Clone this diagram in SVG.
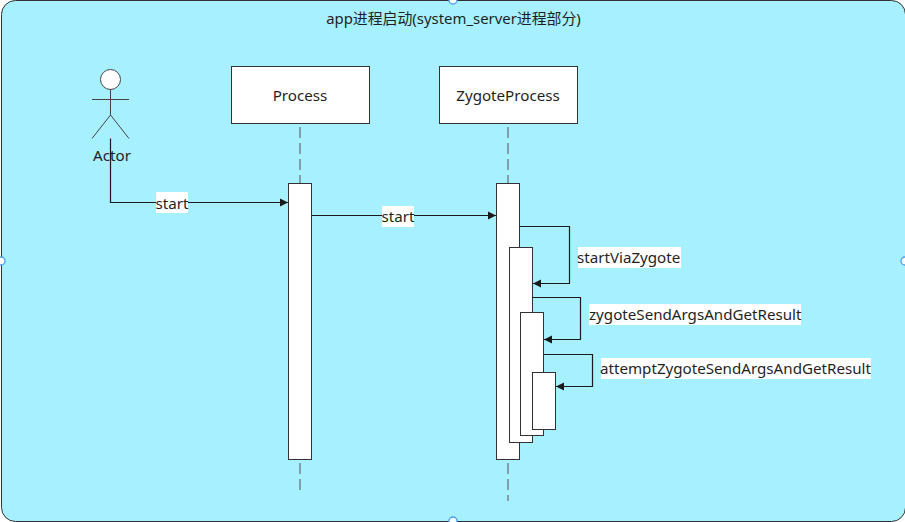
<svg xmlns="http://www.w3.org/2000/svg" width="905" height="522" viewBox="0 0 905 522">
<style>
text{font-family:"Noto Sans","Noto Sans CJK SC",sans-serif;font-size:15.15px;fill:#1f1f1f}
.title{font-size:14.9px}
.box{fill:#fff;stroke:#323232;stroke-width:1}
.life{fill:none;stroke:#555;stroke-width:1;stroke-dasharray:11 5}
.msg{fill:none;stroke:#1a1a1a;stroke-width:1.2;marker-end:url(#arr)}
.lab{fill:#fff}
.act{fill:#fff;stroke:#323232;stroke-width:1}
.handle{fill:#fff;stroke:#4a9cf0;stroke-width:1.3}
.fig{fill:none;stroke:#444;stroke-width:1}
</style>
<defs>
<marker id="arr" markerUnits="userSpaceOnUse" markerWidth="9" markerHeight="9" refX="8" refY="4.5" orient="auto"><path d="M0 0.500L8 4.500L0 8.500Z" fill="#1a1a1a"/></marker>
</defs>
<g id="frame">
<rect x="1.500" y="0.500" width="904" height="521" rx="14" fill="#a6f0ff" stroke="#323232"/>
<circle class="handle" cx="453" cy="0" r="4"/>
<circle class="handle" cx="453" cy="521" r="4"/>
<circle class="handle" cx="1" cy="261" r="4"/>
<circle class="handle" cx="905" cy="261" r="4"/>
<text class="title" x="453.500" y="24" text-anchor="middle">app进程启动(system_server进程部分)</text>
</g>
<g id="actor">
<circle cx="110.500" cy="79.500" r="10" fill="#fff" stroke="#444"/>
<path class="fig" d="M110.500 89.500V115M92 99.500H129M110.500 115L92 138.500M110.500 115L129 138.500"/>
<text x="112" y="161" text-anchor="middle">Actor</text>
</g>
<g id="process">
<line class="life" x1="300" y1="127" x2="300" y2="184"/>
<line class="life" x1="300" y1="463" x2="300" y2="490"/>
<rect class="box" x="231.500" y="66.500" width="138" height="57"/>
<text x="300" y="101" text-anchor="middle">Process</text>
<rect class="act" x="288.500" y="183.500" width="23" height="276"/>
</g>
<g id="zygote">
<line class="life" x1="508" y1="127" x2="508" y2="184"/>
<line class="life" x1="508" y1="463" x2="508" y2="501"/>
<rect class="box" x="439.500" y="66.500" width="138" height="57"/>
<text x="508" y="101" text-anchor="middle">ZygoteProcess</text>
<rect class="act" x="496.500" y="183.500" width="23" height="276"/>
<rect class="act" x="509.500" y="247.500" width="23" height="195"/>
<rect class="act" x="520.500" y="312.500" width="23" height="123"/>
<rect class="act" x="532.500" y="372.500" width="23" height="57"/>
</g>
<g id="connectors">
<path class="msg" d="M110.500 138.500V202.500H288"/>
<path class="msg" d="M311.500 215.500H496"/>
<path class="msg" d="M519.500 226.500H569.500V283.500H533"/>
<path class="msg" d="M532.500 297.500H580.500V339.500H544"/>
<path class="msg" d="M543.500 354.500H592.500V386.500H556"/>
</g>
<g id="labels">
<rect class="lab" x="156" y="192" width="32" height="21"/><text x="172" y="209" text-anchor="middle">start</text>
<rect class="lab" x="382" y="206" width="32" height="21"/><text x="398" y="222" text-anchor="middle">start</text>
<rect class="lab" x="578" y="247" width="103" height="21"/><text x="577" y="263">startViaZygote</text>
<rect class="lab" x="589" y="304" width="212" height="21"/><text x="589" y="320">zygoteSendArgsAndGetResult</text>
<rect class="lab" x="601" y="358" width="270" height="21"/><text x="600" y="374">attemptZygoteSendArgsAndGetResult</text>
</g>
</svg>
